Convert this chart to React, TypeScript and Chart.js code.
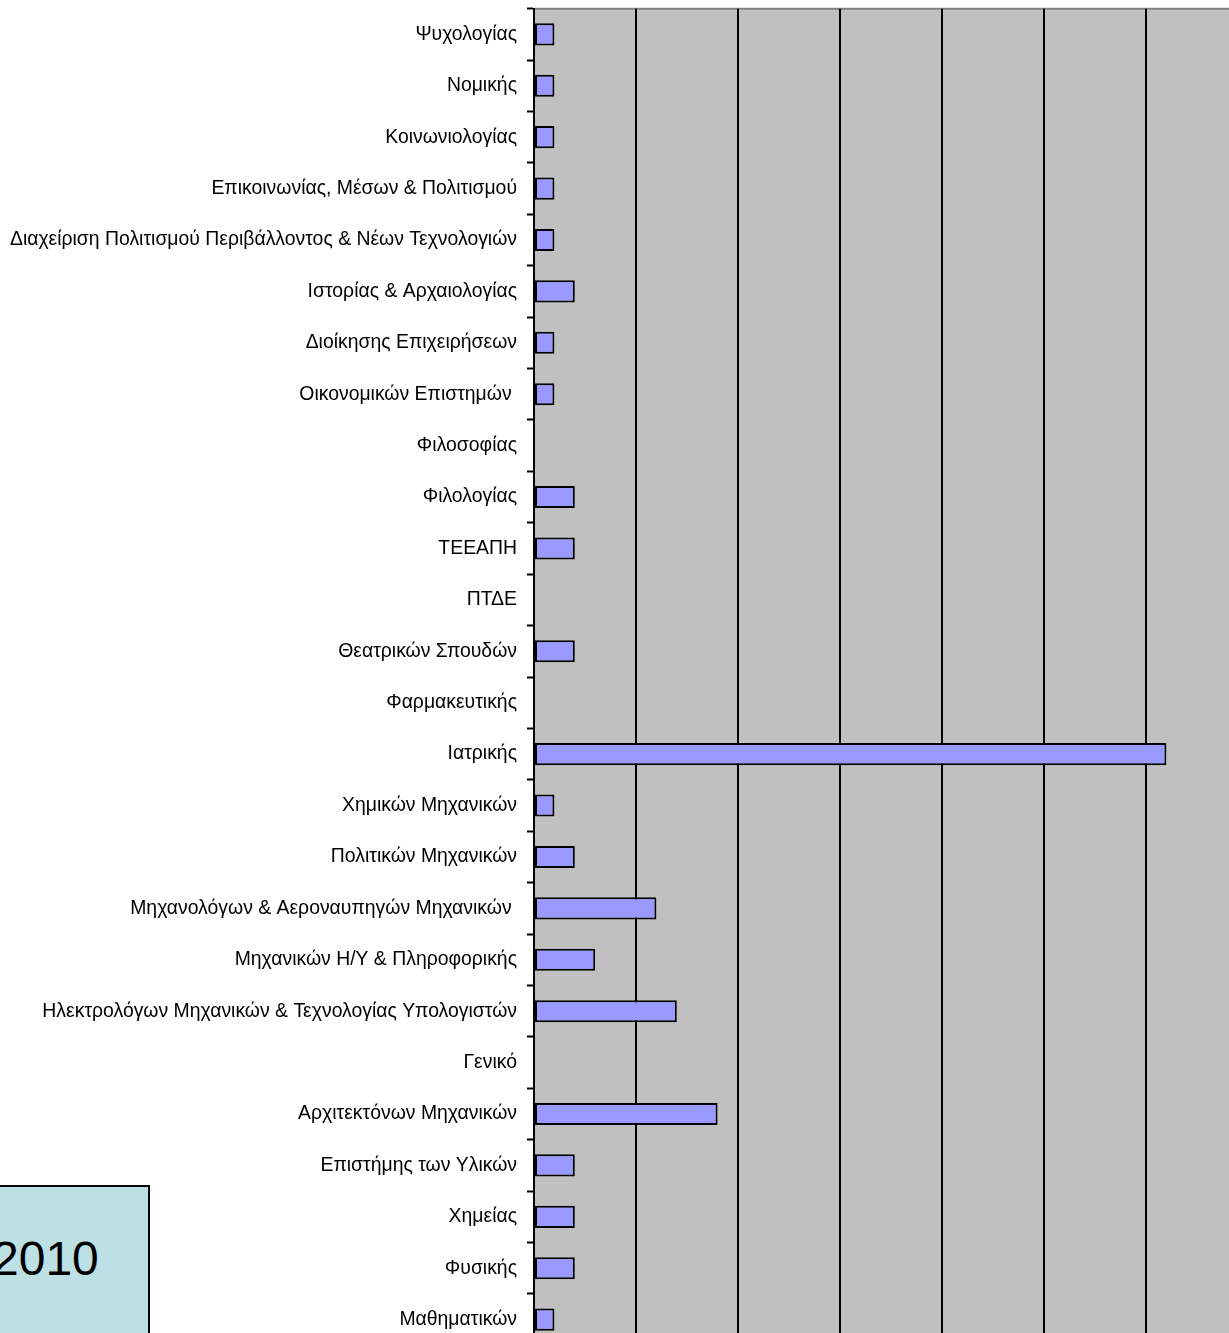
import React, { useEffect, useRef } from "react";
import { Chart, registerables } from "chart.js";

Chart.register(...registerables);

const categories = [
  "Ψυχολογίας",
  "Νομικής",
  "Κοινωνιολογίας",
  "Επικοινωνίας, Μέσων & Πολιτισμού",
  "Διαχείριση Πολιτισμού Περιβάλλοντος & Νέων Τεχνολογιών",
  "Ιστορίας & Αρχαιολογίας",
  "Διοίκησης Επιχειρήσεων",
  "Οικονομικών Επιστημών ",
  "Φιλοσοφίας",
  "Φιλολογίας",
  "ΤΕΕΑΠΗ",
  "ΠΤΔΕ",
  "Θεατρικών Σπουδών",
  "Φαρμακευτικής",
  "Ιατρικής",
  "Χημικών Μηχανικών",
  "Πολιτικών Μηχανικών",
  "Μηχανολόγων & Αεροναυπηγών Μηχανικών ",
  "Μηχανικών Η/Υ & Πληροφορικής",
  "Ηλεκτρολόγων Μηχανικών & Τεχνολογίας Υπολογιστών",
  "Γενικό",
  "Αρχιτεκτόνων Μηχανικών",
  "Επιστήμης των Υλικών",
  "Χημείας",
  "Φυσικής",
  "Μαθηματικών",
];

const values = [1, 1, 1, 1, 1, 2, 1, 1, 0, 2, 2, 0, 2, 0, 31, 1, 2, 6, 3, 7, 0, 9, 2, 2, 2, 1];

const axisMin = 0;
const axisMax = 35;
const axisStep = 5;
const yearLabel = "2010";

const bgPlugin = {
  id: "plotBg",
  beforeDraw(chart: any) {
    const { ctx, chartArea } = chart;
    ctx.save();
    ctx.fillStyle = "#C0C0C0";
    ctx.fillRect(chartArea.left, chartArea.top, chartArea.right - chartArea.left, chartArea.bottom - chartArea.top);
    ctx.strokeStyle = "#808080";
    ctx.lineWidth = 2;
    ctx.beginPath();
    ctx.moveTo(chartArea.left, chartArea.top);
    ctx.lineTo(chartArea.right, chartArea.top);
    ctx.stroke();
    ctx.restore();
  },
};

export default function App() {
  const ref = useRef<HTMLCanvasElement>(null);
  useEffect(() => {
    if (!ref.current) return;
    const chart = new Chart(ref.current, {
      type: "bar",
      data: {
        labels: categories,
        datasets: [
          {
            data: values,
            backgroundColor: "#9999FF",
            borderColor: "#000000",
            borderWidth: (c: any) => (c.raw === 0 ? 0 : 2),
            borderSkipped: false,
            categoryPercentage: 1,
            barPercentage: 0.43,
          },
        ],
      },
      options: {
        indexAxis: "y",
        animation: false,
        responsive: false,
        maintainAspectRatio: false,
        layout: { padding: { top: 6, left: 0, right: 0, bottom: 0 } },
        plugins: { legend: { display: false }, tooltip: { enabled: false } },
        scales: {
          x: {
            min: axisMin,
            max: axisMax,
            ticks: { stepSize: axisStep, display: false },
            grid: { color: "#000000", lineWidth: 2, drawTicks: false },
            border: { display: false },
            afterFit: (s: any) => {
              s.height = 18;
            },
          },
          y: {
            grid: {
              drawOnChartArea: false,
              drawTicks: true,
              tickLength: 7,
              tickColor: "#000000",
              tickWidth: 2,
            },
            border: { display: true, color: "#000000", width: 2 },
            ticks: {
              color: "#000000",
              padding: 10,
              autoSkip: false,
              font: { family: "Liberation Sans, Arial, sans-serif", size: 19.4 },
            },
            afterFit: (s: any) => {
              s.width = 534;
            },
          },
        },
      },
      plugins: [bgPlugin],
    });
    return () => chart.destroy();
  }, []);

  return (
    <div style={{ position: "absolute", left: 0, top: 0, width: 1229, height: 1333, overflow: "hidden", background: "#fff" }}>
      <canvas ref={ref} width={1248} height={1380} style={{ position: "absolute", left: 0, top: -13, width: 1248, height: 1380 }} />
      <div
        style={{
          position: "absolute",
          left: -70,
          top: 1185,
          width: 220,
          height: 200,
          background: "#BCE0E4",
          border: "2px solid #000",
          boxSizing: "border-box",
        }}
      />
      <div
        style={{
          position: "absolute",
          left: -8,
          top: 1231,
          fontFamily: "Liberation Sans, Arial, sans-serif",
          fontSize: 48,
          lineHeight: "56px",
          color: "#000",
        }}
      >
        {yearLabel}
      </div>
    </div>
  );
}
